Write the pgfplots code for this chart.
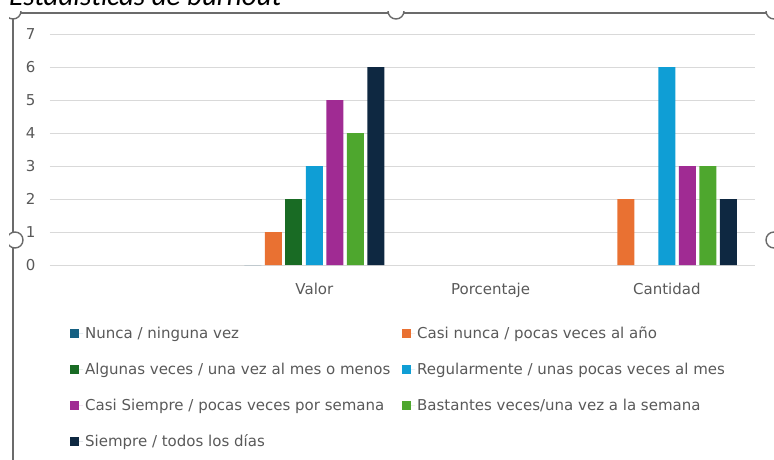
\documentclass[border=0pt]{standalone}
\usepackage{pgfplots}
\pgfplotsset{compat=1.18}
\usepackage{fontspec}
\setmainfont{DejaVu Sans}
\newfontfamily\titlefont{Carlito}
\definecolor{cNunca}{HTML}{156082}
\definecolor{cCasiNunca}{HTML}{E97132}
\definecolor{cAlgunas}{HTML}{196B24}
\definecolor{cRegular}{HTML}{0F9ED5}
\definecolor{cCasiSiempre}{HTML}{A02B93}
\definecolor{cBastantes}{HTML}{4EA72E}
\definecolor{cSiempre}{HTML}{0E2841}
\definecolor{txt}{HTML}{595959}
\definecolor{gridc}{HTML}{D9D9D9}
\definecolor{framec}{HTML}{6B6B6B}
\begin{document}
\begin{tikzpicture}[x=1pt,y=1pt]
\path[use as bounding box] (0,0) rectangle (774,459);
\clip (0,0) rectangle (774,459);
% chart frame and selection handles
\draw[framec, line width=1.4pt] (13,-10) -- (13,446) -- (790,446);
\foreach \p in {(13,448),(396,448),(774,448),(15,219),(774,219)}
  \draw[framec, line width=1.4pt, fill=white] \p circle (8);
\fill[white] (-5,448) rectangle (800,470);
\fill[white] (-5,-5) rectangle (9,470);
\node[anchor=base west, inner sep=0pt, font=\titlefont\itshape\fontsize{29}{30}\selectfont] at (9,453.5) {Estadísticas de burnout};
\begin{axis}[
  at={(50pt,194pt)}, anchor=south west,
  scale only axis, width=705pt, height=231pt,
  xmin=-0.5, xmax=3.5, ymin=0, ymax=7,
  axis line style={draw=none}, tick style={draw=none},
  major tick length=0pt,
  ymajorgrids, grid style={gridc, line width=1pt},
  xtick={0,1,2,3}, xticklabels={,Valor,Porcentaje,Cantidad},
  ytick={0,1,2,3,4,5,6,7},
  /pgf/number format/assume math mode=true,
  ticklabel style={text=txt, font=\fontsize{15}{17}\selectfont},
  yticklabel style={xshift=-11pt},
  xticklabel style={yshift=-15pt},
  ybar=3.5pt, bar width=17pt,
  every axis plot post/.append style={legend image code/.code={\fill[##1,draw=none] (0pt,-4.5pt) rectangle (9pt,4.5pt); \path (0pt,0pt) -- (13pt,0pt);}},
  legend columns=2,
  legend style={draw=none, fill=none, inner sep=0pt,
    at={(0.0283,-0.258)}, anchor=north west,
    font=\fontsize{15}{18}\selectfont, text=txt,
    column sep=0pt, row sep=19pt},
  legend cell align=left,
]
\addplot[fill=cNunca, draw=none] coordinates {(1,0)};
\addplot[fill=cCasiNunca, draw=none] coordinates {(1,1) (3,2)};
\addplot[fill=cAlgunas, draw=none] coordinates {(1,2)};
\addplot[fill=cRegular, draw=none] coordinates {(1,3) (3,6)};
\addplot[fill=cCasiSiempre, draw=none] coordinates {(1,5) (3,3)};
\addplot[fill=cBastantes, draw=none] coordinates {(1,4) (3,3)};
\addplot[fill=cSiempre, draw=none] coordinates {(1,6) (3,2)};
\legend{\makebox[315pt][l]{Nunca / ninguna vez}, Casi nunca / pocas veces al año,
  \makebox[315pt][l]{Algunas veces / una vez al mes o menos}, Regularmente / unas pocas veces al mes,
  \makebox[315pt][l]{Casi Siempre / pocas veces por semana}, Bastantes veces/una vez a la semana,
  \makebox[315pt][l]{Siempre / todos los días}}
\end{axis}
\end{tikzpicture}
\end{document}
